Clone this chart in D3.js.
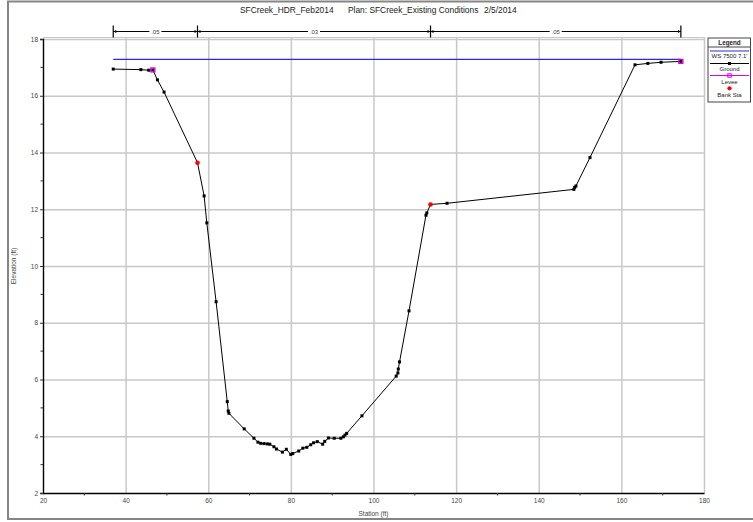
<!DOCTYPE html>
<html><head><meta charset="utf-8">
<script src="https://cdn.jsdelivr.net/npm/d3@7"></script>
<style>body{margin:0;background:#fff;}svg{display:block;font-family:"Liberation Sans",Arial,sans-serif;}</style>
</head><body>
<svg id="c" width="753" height="522"></svg>
<script>
// ---- data ----
const titleParts = ["SFCreek_HDR_Feb2014", "Plan: SFCreek_Existing Conditions", "2/5/2014"];
const groundStation = [37.0,43.7,45.6,46.6,47.7,49.3,57.4,59.0,59.65,61.9,64.6,64.84,65.0,68.7,71.06,72.03,72.7,73.5,74.3,74.9,75.9,76.5,77.95,78.9,79.97,80.45,81.9,82.9,83.85,84.8,85.5,86.4,87.7,88.2,89.1,90.5,92.1,92.7,93.1,93.5,97.2,105.5,105.9,106.0,106.3,108.6,112.7,112.9,113.8,117.8,148.5,148.7,149.0,152.4,163.3,166.4,169.6,174.4];
const groundElev = [16.94,16.92,16.90,16.91,16.56,16.13,13.64,12.47,11.52,8.74,5.22,4.89,4.81,4.26,3.93,3.79,3.75,3.74,3.73,3.72,3.63,3.55,3.44,3.54,3.36,3.39,3.48,3.58,3.61,3.70,3.77,3.81,3.72,3.82,3.94,3.93,3.93,3.98,4.04,4.10,4.72,6.12,6.23,6.37,6.62,8.42,11.79,11.87,12.17,12.21,12.70,12.77,12.82,13.82,17.09,17.14,17.18,17.21];
const bankStation = [57.4, 113.8];
const bankElev = [13.64, 12.17];
const leveeStation = [46.6, 174.4];
const leveeElev = [16.91, 17.21];
const wsStation = [37.0, 174.4];
const wsElev = [17.28, 17.28];
const manningStation = [37.0, 57.4, 113.8, 174.4];
const manningN = [".05", ".03", ".05"];
const xTicks = [20,40,60,80,100,120,140,160,180];
const yTicks = [2,4,6,8,10,12,14,16,18];
const legendLabels = ["WS 7500 7.1'", "Ground", "Levee", "Bank Sta"];

// ---- chart ----
const svg = d3.select("#c");
const x = d3.scaleLinear().domain([20,180]).range([43,704]);
const y = d3.scaleLinear().domain([2,18]).range([493,39]);
const gridColor = "#c8c8c8";
const labelColor = "#444";

// outer border
svg.append("rect").attr("x",8).attr("y",1.5).attr("width",760).attr("height",517.5)
  .attr("fill","none").attr("stroke","#858585").attr("stroke-width",2);

// title
const tx = [240, 348, 484];
titleParts.forEach((t,i)=>svg.append("text").attr("x",tx[i]).attr("y",13).attr("font-size",8.4).attr("fill","#222").text(t));

// gridlines via d3 axes (tick lines spanning the plot)
const gridX = svg.append("g").attr("transform",`translate(0,${y(2)})`)
  .call(d3.axisBottom(x).tickValues(xTicks.slice(1)).tickSize(-(y(2)-37)).tickFormat(""));
gridX.select(".domain").remove();
gridX.selectAll(".tick line").attr("stroke",gridColor).attr("stroke-width",1.5);
const gridY = svg.append("g").attr("transform",`translate(${x(20)},0)`)
  .call(d3.axisLeft(y).tickValues(yTicks.slice(1)).tickSize(-(x(180)-x(20))).tickFormat(""));
gridY.select(".domain").remove();
gridY.selectAll(".tick line").attr("stroke",gridColor).attr("stroke-width",1.5);
svg.append("line").attr("x1",x(20)).attr("x2",x(180)).attr("y1",37.5).attr("y2",37.5).attr("stroke",gridColor).attr("stroke-width",1);

// axes
const xAxis = d3.axisBottom(x).tickValues(xTicks).tickSize(0).tickPadding(5).tickFormat(d3.format("d"));
const gx = svg.append("g").attr("transform",`translate(0,${y(2)})`).call(xAxis);
gx.select(".domain").attr("stroke","#000").attr("stroke-width",1.6);
gx.selectAll("text").attr("font-size",6.5).attr("fill",labelColor).attr("font-family","Liberation Sans, Arial");
const xMinor = d3.range(30,180,20);
svg.append("g").selectAll("line").data(xMinor).join("line")
  .attr("x1",d=>x(d)).attr("x2",d=>x(d)).attr("y1",y(2)).attr("y2",y(2)+2.5).attr("stroke","#333");

const yAxis = d3.axisLeft(y).tickValues(yTicks).tickSize(3).tickPadding(2).tickFormat(d3.format("d"));
const gy = svg.append("g").attr("transform",`translate(${x(20)},0)`).call(yAxis);
gy.select(".domain").attr("stroke","#000").attr("stroke-width",1.4);
gy.selectAll(".tick line").attr("stroke","#333");
gy.selectAll("text").attr("font-size",6.5).attr("fill",labelColor).attr("font-family","Liberation Sans, Arial");
const yMinor = d3.range(3,18,2);
svg.append("g").selectAll("line").data(yMinor).join("line")
  .attr("x1",x(20)-2.5).attr("x2",x(20)).attr("y1",d=>y(d)).attr("y2",d=>y(d)).attr("stroke","#333");

svg.append("text").attr("x",(x(20)+x(180))/2).attr("y",516).attr("text-anchor","middle")
  .attr("font-size",6.5).attr("fill",labelColor).text("Station (ft)");
svg.append("text").attr("transform",`translate(16,${(y(2)+y(18))/2}) rotate(-90)`).attr("text-anchor","middle")
  .attr("font-size",6.5).attr("fill",labelColor).text("Elevation (ft)");

// Manning's n bar
const barY = 31.5;
svg.append("line").attr("x1",x(manningStation[0])).attr("x2",x(manningStation[manningStation.length-1]))
  .attr("y1",barY).attr("y2",barY).attr("stroke","#000").attr("stroke-width",1);
manningStation.forEach((s,i)=>{
  svg.append("line").attr("x1",x(s)).attr("x2",x(s)).attr("y1",barY-6).attr("y2",barY+6).attr("stroke","#000").attr("stroke-width",1.2);
  if (i>0) svg.append("path").attr("d",`M${x(s)},${barY}L${x(s)-3},${barY-1.6}L${x(s)-3},${barY+1.6}Z`).attr("fill","#000");
  if (i<manningStation.length-1) svg.append("path").attr("d",`M${x(s)},${barY}L${x(s)+3},${barY-1.6}L${x(s)+3},${barY+1.6}Z`).attr("fill","#000");
});
manningN.forEach((n,i)=>{
  const cx = (x(manningStation[i])+x(manningStation[i+1]))/2;
  svg.append("rect").attr("x",cx-6).attr("y",barY-3).attr("width",12).attr("height",6).attr("fill","#fff");
  svg.append("text").attr("x",cx).attr("y",barY+2.3).attr("text-anchor","middle").attr("font-size",6).attr("fill","#444").text(n);
});

// WS line
const line = d3.line().x(d=>x(d[0])).y(d=>y(d[1]));
svg.append("path").datum(wsStation.map((s,i)=>[s,wsElev[i]])).attr("d",line)
  .attr("fill","none").attr("stroke","#2a2ad8").attr("stroke-width",1.2);

// ground
const gdata = groundStation.map((s,i)=>[s,groundElev[i]]);
svg.append("path").datum(gdata).attr("d",line).attr("fill","none").attr("stroke","#000").attr("stroke-width",1);
svg.append("g").selectAll("rect").data(gdata).join("rect")
  .attr("x",d=>x(d[0])-1.5).attr("y",d=>y(d[1])-1.5).attr("width",3).attr("height",3).attr("fill","#000");

// levees
svg.append("g").selectAll("rect").data(leveeStation.map((s,i)=>[s,leveeElev[i]])).join("rect")
  .attr("x",d=>x(d[0])-2).attr("y",d=>y(d[1])-2).attr("width",4).attr("height",4)
  .attr("fill","none").attr("stroke","#e000e0").attr("stroke-width",1.3);

// bank stations
svg.append("g").selectAll("circle").data(bankStation.map((s,i)=>[s,bankElev[i]])).join("circle")
  .attr("cx",d=>x(d[0])).attr("cy",d=>y(d[1])).attr("r",2.3).attr("fill","#f00");

// legend
const lg = svg.append("g");
lg.append("rect").attr("x",708).attr("y",38).attr("width",42.5).attr("height",64).attr("fill","#fff").attr("stroke","#444").attr("stroke-width",1);
lg.append("text").attr("x",729.5).attr("y",44.5).attr("text-anchor","middle").attr("font-size",6.3).attr("font-weight","bold").attr("fill","#222").text("Legend");
lg.append("line").attr("x1",708).attr("x2",750.5).attr("y1",47).attr("y2",47).attr("stroke","#444");
const lx1 = 710, lx2 = 749, lcx = 729.5;
lg.append("line").attr("x1",lx1).attr("x2",lx2).attr("y1",51).attr("y2",51).attr("stroke","#2a2ad8").attr("stroke-width",1.2);
lg.append("line").attr("x1",lx1).attr("x2",lx2).attr("y1",63.5).attr("y2",63.5).attr("stroke","#000");
lg.append("rect").attr("x",lcx-1.5).attr("y",62).attr("width",3).attr("height",3).attr("fill","#000");
lg.append("line").attr("x1",lx1).attr("x2",lx2).attr("y1",75.5).attr("y2",75.5).attr("stroke","#e000e0").attr("stroke-width",1.2);
lg.append("rect").attr("x",lcx-1.7).attr("y",73.8).attr("width",3.4).attr("height",3.4).attr("fill","none").attr("stroke","#e000e0").attr("stroke-width",1);
lg.append("circle").attr("cx",lcx).attr("cy",88.3).attr("r",2.1).attr("fill","#f00");
const ly = [58.3, 71.3, 84, 97.3];
legendLabels.forEach((t,i)=>lg.append("text").attr("x",lcx).attr("y",ly[i]).attr("text-anchor","middle").attr("font-size",6).attr("fill","#222").text(t));
</script>
</body></html>
